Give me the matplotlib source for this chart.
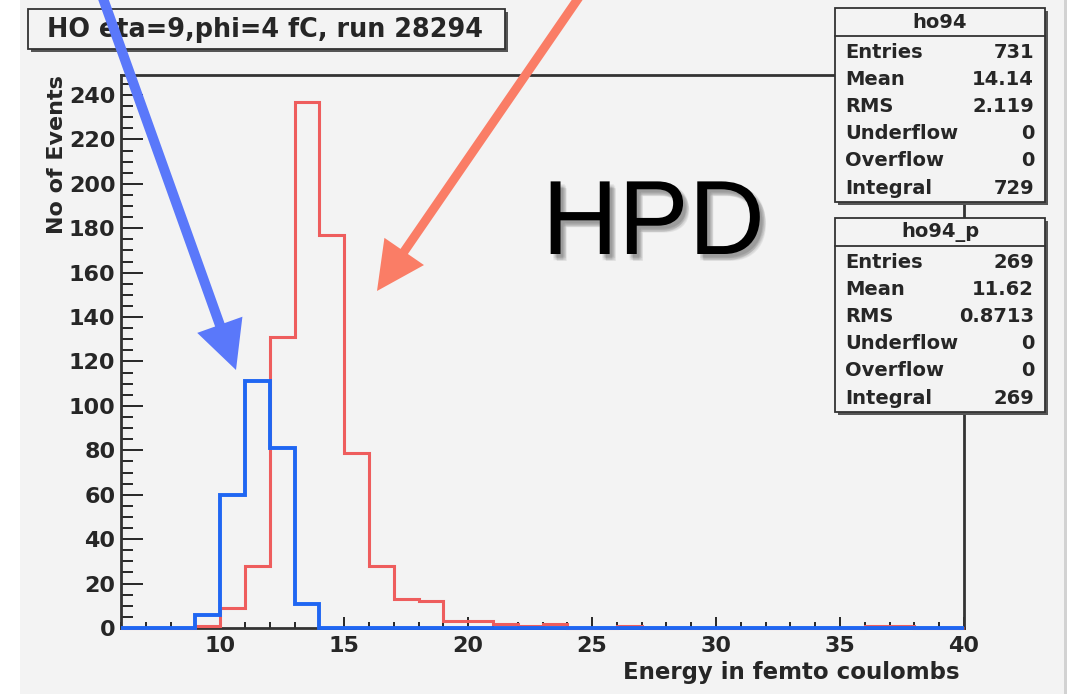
import numpy as np
import matplotlib.pyplot as plt
import matplotlib.patheffects as pe
from matplotlib.patches import Rectangle, FancyArrow
from matplotlib.ticker import MultipleLocator

plt.rcParams['font.family'] = ['DejaVu Sans']

W, H = 1082, 695

# charge spectra, 1 fC bins from 6 to 40 fC
bin_edges = np.arange(6, 41)
ho94 = [0, 0, 0, 1, 9, 28, 131, 237, 177, 79, 28, 13, 12, 3, 3, 2, 1, 2, 0, 0, 1,
        0, 0, 0, 0, 0, 0, 0, 0, 0, 1, 1, 0, 0]
ho94_p = [0, 0, 0, 6, 60, 111, 81, 11, 0, 0, 0, 0, 0, 0, 0, 0, 0, 0, 0, 0, 0,
          0, 0, 0, 0, 0, 0, 0, 0, 0, 0, 0, 0, 0]

stat_names = ['Entries', 'Mean', 'RMS', 'Underflow', 'Overflow', 'Integral']
ho94_stats = ['731', '14.14', '2.119', '0', '0', '729']
ho94_p_stats = ['269', '11.62', '0.8713', '0', '0', '269']

title = 'HO eta=9,phi=4 fC, run 28294'
xlabel = 'Energy in femto coulombs'
ylabel = 'No of Events'

bg = '#f3f3f3'
ink = '#262626'

fig = plt.figure(figsize=(W / 100, H / 100), dpi=100)
fig.patch.set_facecolor('white')
# canvas pad
fig.patches.append(Rectangle((20 / W, 1 - 694 / H), (1066 - 20) / W, 694 / H,
                             transform=fig.transFigure, fc=bg, ec='none', zorder=-10))
fig.patches.append(Rectangle((1064 / W, 1 - 694 / H), 3 / W, 694 / H,
                             transform=fig.transFigure, fc='#d2d2d2', ec='none', zorder=-9))

ax = fig.add_axes([121 / W, 1 - 628 / H, (964 - 121) / W, (628 - 75) / H])
ax.set_facecolor('none')

ax.stairs(ho94, bin_edges, color='#ee5d5d', lw=2.2, clip_on=False, zorder=3)
ax.stairs(ho94_p, bin_edges, color='#1f66f2', lw=2.8, clip_on=False, zorder=4)

ax.set_xlim(6, 40)
ax.set_ylim(0, 249)
ax.xaxis.set_major_locator(MultipleLocator(5))
ax.xaxis.set_minor_locator(MultipleLocator(1))
ax.yaxis.set_major_locator(MultipleLocator(20))
ax.yaxis.set_minor_locator(MultipleLocator(5))
ax.tick_params(axis='y', which='major', direction='in', length=16, width=1.4, color=ink, pad=4)
ax.tick_params(axis='y', which='minor', direction='in', length=8.5, width=1.4, color=ink)
ax.tick_params(axis='x', which='major', direction='in', length=8, width=1.4, color=ink, pad=6)
ax.tick_params(axis='x', which='minor', direction='in', length=4.3, width=1.4, color=ink)
ax.set_xticks([10, 15, 20, 25, 30, 35, 40])
ax.set_xticklabels(['10', '15', '20', '25', '30', '35', '40'])
for lab in ax.get_xticklabels() + ax.get_yticklabels():
    lab.set_fontsize(16)
    lab.set_fontweight('bold')
    lab.set_color(ink)
for s in ax.spines.values():
    s.set_color('#333333')
    s.set_linewidth(2)

# overlay in pixel coordinates for the pave boxes, labels and arrows
ov = fig.add_axes([0, 0, 1, 1])
ov.set_xlim(0, W)
ov.set_ylim(H, 0)
ov.axis('off')
ov.patch.set_alpha(0)
ov.set_zorder(5)


def pave(x0, y0, x1, y1):
    ov.add_patch(Rectangle((x0 + 3, y0 + 3), x1 - x0, y1 - y0, fc='#555555', ec='none'))
    ov.add_patch(Rectangle((x0, y0), x1 - x0, y1 - y0, fc=bg, ec='#333333', lw=1.3))


pave(28, 9, 505, 49)
ov.text(265, 30, title, fontsize=18.4, fontweight='bold', color=ink, ha='center', va='center')

ov.text(57, 75, ylabel, rotation=90, fontsize=16, fontweight='bold', color=ink,
        ha='center', va='top')
ov.text(960, 673, xlabel, fontsize=16.5, fontweight='bold', color=ink,
        ha='right', va='center')


def stats_box(y0, name, vals):
    pave(835, y0, 1045, y0 + 194)
    ov.plot([835, 1045], [y0 + 28, y0 + 28], color='#333333', lw=1.3)
    ov.text(940, y0 + 14, name, fontsize=14, fontweight='bold', color=ink,
            ha='center', va='center')
    for i, (n, v) in enumerate(zip(stat_names, vals)):
        yy = y0 + 44 + i * 27.2
        ov.text(845, yy, n, fontsize=14, fontweight='bold', color=ink, ha='left', va='center')
        ov.text(1034, yy, v, fontsize=14, fontweight='bold', color=ink, ha='right', va='center')


stats_box(8, 'ho94', ho94_stats)
stats_box(218, 'ho94_p', ho94_p_stats)

# arrows pointing at the two spectra, drawn over the title pave
ov.add_patch(FancyArrow(100, -10, 236 - 100, 370 + 10, width=10, head_width=48,
                        head_length=48, length_includes_head=True,
                        fc='#5a78fa', ec='none', zorder=6))
ov.add_patch(FancyArrow(584, -10, 377 - 584, 291 + 10, width=9, head_width=48,
                        head_length=48, length_includes_head=True,
                        fc='#fa7d66', ec='none', zorder=6))

# big label with a soft drop shadow
shadow = [pe.SimplePatchShadow(offset=(dx, dy), shadow_rgbFace='black', alpha=0.06)
          for dx, dy in [(2, -3), (3, -4), (4, -4.5), (3, -2), (2, -4.5), (4, -3), (4.5, -5)]]
ov.text(542, 254, 'HPD', fontsize=76, family='Liberation Sans', color='black',
        ha='left', va='baseline', path_effects=shadow + [pe.Normal()])

fig.savefig('out.png', dpi=100, facecolor=fig.get_facecolor())
